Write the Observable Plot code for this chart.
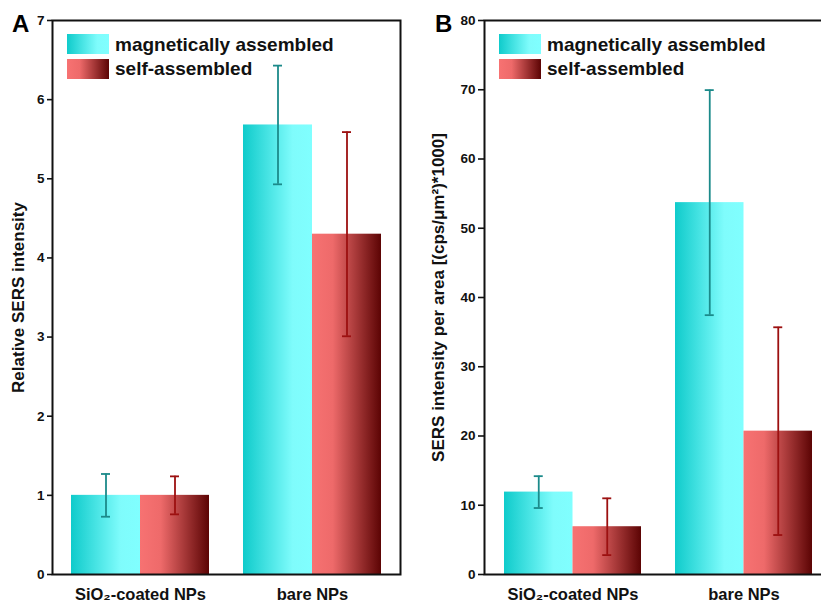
<!DOCTYPE html>
<html>
<head>
<meta charset="utf-8">
<script src="https://cdn.jsdelivr.net/npm/d3@7"></script>
<script src="https://cdn.jsdelivr.net/npm/@observablehq/plot@0.6"></script>
<style>
  html, body { margin: 0; padding: 0; background: #fff; }
  body { width: 821px; height: 602px; overflow: hidden; position: relative;
         font-family: "Liberation Sans", Arial, sans-serif; font-weight: bold; color: #111; }
  .panel { position: absolute; top: 0; overflow: visible; }
  .panel svg { max-width: none !important; }
  .letter { position: absolute; font-size: 24px; line-height: 24px; font-weight: bold; color: #000; }
  .sw { position: absolute; width: 42px; height: 20px; }
  .sw.mag { background: linear-gradient(to right, #0fcbcb 0%, #7ffcfc 72%, #80ffff 100%); }
  .sw.self { background: linear-gradient(to right, #f77272 0%, #ee6a6a 30%, #5c0404 100%); }
  .lt { position: absolute; font-size: 19px; line-height: 19px; white-space: nowrap; color: #111; }
</style>
</head>
<body>
<div id="root"></div>
<script>
// ---- data ----
const groups = ["SiO₂-coated NPs", "bare NPs"];
const seriesNames = ["magnetically assembled", "self-assembled"];

// Panel A: relative SERS intensity
const aMagMean = [1.00, 5.68];
const aMagErr  = [0.27, 0.75];
const aSelfMean = [1.00, 4.30];
const aSelfErr  = [0.24, 1.29];
const aTicks = [0, 1, 2, 3, 4, 5, 6, 7];

// Panel B: SERS intensity per area
const bMagMean = [11.9, 53.7];
const bMagErr  = [2.3, 16.25];
const bSelfMean = [6.9, 20.7];
const bSelfErr  = [4.1, 15.0];
const bTicks = [0, 10, 20, 30, 40, 50, 60, 70, 80];

function rows(means, errs, series) {
  return groups.map((g, i) => ({group: g, series, value: means[i], err: errs[i]}));
}

function makePanel(cfg, bw) {
  const mag = rows(cfg.magMean, cfg.magErr, seriesNames[0]);
  const self = rows(cfg.selfMean, cfg.selfErr, seriesNames[1]);
  const cap = 4.5;
  const magStroke = "#1b8a8a", selfStroke = "#9c1010";
  return Plot.plot({
    width: cfg.width,
    height: 602,
    marginLeft: cfg.marginLeft,
    marginRight: cfg.marginRight,
    marginTop: 20,
    marginBottom: 28,
    style: {fontFamily: "'Liberation Sans', Arial, sans-serif", fontWeight: "bold", color: "#111",
            background: "transparent", overflow: "visible", maxWidth: "none"},
    x: {domain: groups, paddingInner: 0.2, paddingOuter: 0.11, label: null},
    y: {domain: cfg.domain, label: null},
    marks: [
      Plot.barY(mag, {x: "group", y: "value", fill: `url(#gMag${cfg.id})`, insetRight: bw / 2, insetLeft: 0}),
      Plot.barY(self, {x: "group", y: "value", fill: `url(#gSelf${cfg.id})`, insetLeft: bw / 2, insetRight: 0}),
      Plot.ruleX(mag, {x: "group", y1: d => d.value - d.err, y2: d => d.value + d.err, dx: -bw / 4, stroke: magStroke, strokeWidth: 1.8}),
      Plot.tickY(mag, {x: "group", y: d => d.value + d.err, dx: -bw / 4, insetLeft: bw / 2 - cap, insetRight: bw / 2 - cap, stroke: magStroke, strokeWidth: 1.8}),
      Plot.tickY(mag, {x: "group", y: d => d.value - d.err, dx: -bw / 4, insetLeft: bw / 2 - cap, insetRight: bw / 2 - cap, stroke: magStroke, strokeWidth: 1.8}),
      Plot.ruleX(self, {x: "group", y1: d => d.value - d.err, y2: d => d.value + d.err, dx: bw / 4, stroke: selfStroke, strokeWidth: 1.8}),
      Plot.tickY(self, {x: "group", y: d => d.value + d.err, dx: bw / 4, insetLeft: bw / 2 - cap, insetRight: bw / 2 - cap, stroke: selfStroke, strokeWidth: 1.8}),
      Plot.tickY(self, {x: "group", y: d => d.value - d.err, dx: bw / 4, insetLeft: bw / 2 - cap, insetRight: bw / 2 - cap, stroke: selfStroke, strokeWidth: 1.8}),
      Plot.axisY({ticks: cfg.ticks, tickFormat: d3.format("d"), tickSize: cfg.tickSize, tickPadding: 3, fontSize: 13.5,
                  strokeWidth: 1.6, stroke: "#111", label: cfg.label, labelArrow: "none",
                  labelAnchor: "center", labelOffset: cfg.labelOffset}),
      Plot.axisX({tickSize: 0, tickPadding: 14, fontSize: 16.5, label: null}),
      Plot.frame({stroke: "#111", strokeWidth: 2})
    ]
  });
}

function addDefs(svgNode, id) {
  const svg = d3.select(svgNode);
  const defs = svg.insert("defs", ":first-child");
  const gm = defs.append("linearGradient").attr("id", "gMag" + id).attr("x1", 0).attr("x2", 1).attr("y1", 0).attr("y2", 0);
  [[0, "#0fcbcb"], [0.72, "#7ffcfc"], [1, "#80ffff"]].forEach(([o, c]) => gm.append("stop").attr("offset", o).attr("stop-color", c));
  const gs = defs.append("linearGradient").attr("id", "gSelf" + id).attr("x1", 0).attr("x2", 1).attr("y1", 0).attr("y2", 0);
  [[0, "#f77272"], [0.3, "#ee6a6a"], [1, "#5c0404"]].forEach(([o, c]) => gs.append("stop").attr("offset", o).attr("stop-color", c));
  // axis label styling: larger, without arrow
  const lab = svg.selectAll('g[aria-label="y-axis label"]');
  lab.attr("font-size", 17);
  lab.selectAll("text").attr("font-size", 17).each(function () {
    this.textContent = this.textContent.replace(/\s*[↑→←↓]\s*/g, "").trim();
  });
}

const root = document.getElementById("root");

const panels = [
  {id: "A", left: 0, width: 410, marginLeft: 52, marginRight: 10, domain: [0, 7], ticks: aTicks, tickSize: 5,
   label: "Relative SERS intensity", labelOffset: 41,
   magMean: aMagMean, magErr: aMagErr, selfMean: aSelfMean, selfErr: aSelfErr},
  {id: "B", left: 410, width: 431, marginLeft: 74, marginRight: 10, domain: [0, 80], ticks: bTicks, tickSize: 6,
   label: "SERS intensity per area [(cps/μm²)*1000]", labelOffset: 53,
   magMean: bMagMean, magErr: bMagErr, selfMean: bSelfMean, selfErr: bSelfErr}
];

for (const cfg of panels) {
  const tmp = makePanel(cfg, 138);
  const bw = tmp.scale("x").bandwidth;
  const plot = makePanel(cfg, bw);
  addDefs(plot, cfg.id);
  const div = document.createElement("div");
  div.className = "panel";
  div.style.left = cfg.left + "px";
  div.style.width = cfg.width + "px";
  div.appendChild(plot);
  root.appendChild(div);

  // panel letter
  const L = document.createElement("div");
  L.className = "letter";
  L.textContent = cfg.id;
  L.style.left = (cfg.id === "A" ? 12 : 435) + "px";
  L.style.top = "12px";
  document.body.appendChild(L);

  // legend
  const swx = cfg.left + cfg.marginLeft + 15;
  seriesNames.forEach((name, i) => {
    const sw = document.createElement("div");
    sw.className = "sw " + (i === 0 ? "mag" : "self");
    sw.style.left = swx + "px";
    sw.style.top = (34 + i * 24.5) + "px";
    document.body.appendChild(sw);
    const t = document.createElement("div");
    t.className = "lt";
    t.textContent = name;
    t.style.left = (swx + 48) + "px";
    t.style.top = (35 + i * 24) + "px";
    document.body.appendChild(t);
  });
}
</script>
</body>
</html>
